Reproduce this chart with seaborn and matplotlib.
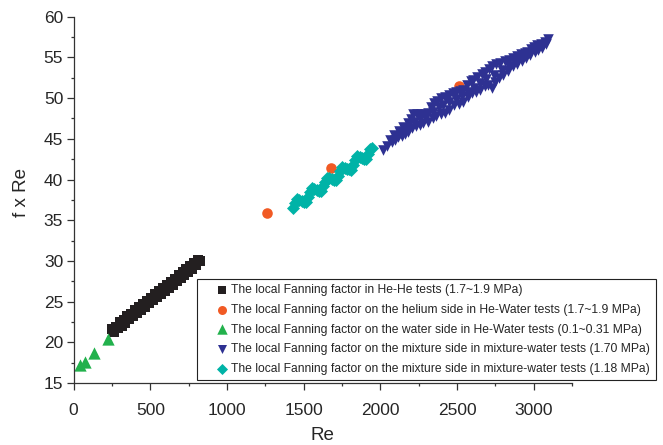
import matplotlib
matplotlib.use("Agg")
import matplotlib.pyplot as plt
from matplotlib.ticker import MultipleLocator
import seaborn as sns
import pandas as pd

# ---------------- data ----------------
hehe_re = [251, 262, 275, 288, 300, 313, 326, 338, 351, 364, 377, 390, 402, 415, 428,
           441, 454, 466, 479, 492, 505, 518, 530, 543, 556, 569, 582, 594, 607, 620,
           633, 646, 658, 671, 684, 697, 710, 722, 735, 748, 761, 774, 786, 799, 812, 825]
hehe_f = [21.65, 21.30, 21.85, 21.75, 22.45, 22.05, 22.70, 22.40, 23.20, 22.85, 23.45,
          23.20, 23.95, 23.60, 24.30, 24.00, 24.75, 24.40, 25.10, 24.80, 25.50, 25.20,
          25.90, 25.55, 26.30, 25.95, 26.70, 26.35, 27.05, 26.70, 27.45, 27.10, 27.85,
          27.50, 28.25, 27.90, 28.60, 28.25, 29.00, 28.65, 29.40, 29.05, 29.80, 29.45,
          30.15, 29.95]

hew_he_re = [1259, 1677, 2513]
hew_he_f = [35.9, 41.4, 51.5]

hew_w_re = [42, 72, 136, 227]
hew_w_f = [17.25, 17.55, 18.65, 20.4]

mix170_re = [2060, 2090, 2120, 2150, 2180, 2200, 2215, 2240, 2265, 2290, 2311, 2330, 2350,
             2370, 2395, 2421, 2445, 2470, 2495, 2520, 2540, 2565, 2590, 2604, 2630, 2660,
             2682, 2705, 2730, 2755, 2780, 2810, 2840, 2865, 2890, 2915, 2940, 2956, 2980,
             3000, 3021, 3045, 3070, 3093,
             2020, 2045, 2074, 2095, 2115, 2140, 2160, 2180, 2205, 2230, 2255, 2280, 2311,
             2340, 2365, 2395, 2421, 2450, 2480, 2510, 2540, 2570, 2600, 2620, 2650, 2680,
             2700, 2726, 2750, 2775, 2800, 2830, 2865, 2890, 2920, 2950, 2976, 3005, 3030,
             3054, 3080,
             2130, 2170, 2220, 2260, 2300, 2340, 2380, 2410, 2450, 2490, 2530, 2570, 2610,
             2650, 2690, 2740, 2790, 2840, 2880, 2930, 2970, 3010, 3060]
mix170_f = [44.9, 45.5, 46.0, 46.5, 46.9, 47.4, 48.0, 48.1, 48.1, 48.1, 48.2, 48.9, 49.4,
            49.6, 50.0, 50.1, 50.4, 50.6, 50.8, 50.9, 51.0, 51.6, 52.1, 52.2, 52.6, 53.0,
            53.2, 53.6, 53.9, 54.2, 54.3, 54.5, 54.7, 54.9, 55.2, 55.4, 55.6, 55.7, 56.0,
            56.3, 56.5, 56.7, 56.9, 57.2,
            43.6, 44.1, 44.6, 44.9, 45.25, 45.4, 45.6, 45.8, 46.3, 46.6, 46.7, 46.9, 47.1,
            47.5, 47.8, 48.0, 48.2, 48.6, 49.1, 49.3, 49.5, 50.1, 50.6, 50.7, 51.0, 51.5,
            51.6, 51.2, 52.0, 52.5, 52.8, 53.3, 53.9, 54.2, 54.5, 54.9, 55.3, 55.7, 55.9,
            56.1, 56.6,
            45.7, 46.2, 47.1, 47.4, 47.7, 48.3, 48.9, 49.1, 49.5, 49.9, 50.2, 50.7, 51.3,
            51.8, 52.3, 52.8, 53.5, 54.0, 54.5, 55.0, 55.5, 56.0, 56.5]

mix118_re = [1430, 1444, 1458, 1472, 1486, 1500, 1514, 1528, 1542, 1556, 1570, 1584, 1598,
             1612, 1626, 1640, 1654, 1668, 1682, 1696, 1710, 1724, 1738, 1752, 1766, 1780,
             1794, 1808, 1822, 1836, 1850, 1864, 1878, 1892, 1906, 1920, 1934, 1948]
mix118_f = [36.50, 37.09, 37.58, 37.47, 37.36, 37.25, 37.24, 37.83, 38.42, 38.91, 38.80,
            38.69, 38.58, 38.57, 39.16, 39.75, 40.24, 40.13, 40.02, 39.91, 39.90, 40.49,
            41.08, 41.57, 41.46, 41.35, 41.24, 41.23, 41.82, 42.41, 42.90, 42.79, 42.68,
            42.57, 42.56, 43.15, 43.74, 43.85]

labels = [
    "The local Fanning factor in He-He tests (1.7~1.9 MPa)",
    "The local Fanning factor on the helium side in He-Water tests (1.7~1.9 MPa)",
    "The local Fanning factor on the water side in He-Water tests (0.1~0.31 MPa)",
    "The local Fanning factor on the mixture side in mixture-water tests (1.70 MPa)",
    "The local Fanning factor on the mixture side in mixture-water tests (1.18 MPa)",
]
x_ticks = [0, 500, 1000, 1500, 2000, 2500, 3000]
y_ticks = [15, 20, 25, 30, 35, 40, 45, 50, 55, 60]

# ---------------- style ----------------
sns.set_style("ticks")
plt.rcParams["font.family"] = ["Liberation Sans", "DejaVu Sans"]

fig = plt.figure(figsize=(6.63, 4.45), dpi=100)
ax = fig.add_axes([0.111, 0.139, 0.752, 0.8235])

series = [
    (hehe_re, hehe_f, labels[0], "s", "#231f20", 58, 2),
    (hew_he_re, hew_he_f, labels[1], "o", "#f15a24", 58, 3),
    (hew_w_re, hew_w_f, labels[2], "^", "#22b14c", 78, 2),
    (mix170_re, mix170_f, labels[3], "v", "#2e3192", 58, 4),
    (mix118_re, mix118_f, labels[4], "D", "#00b3a7", 44, 3),
]
for xs, ys, lab, mk, col, s, z in series:
    df = pd.DataFrame({"Re": xs, "fRe": ys})
    sns.scatterplot(data=df, x="Re", y="fRe", marker=mk, color=col, s=s,
                    linewidth=0, label=lab, ax=ax, zorder=z)

ax.set_xlim(0, 3250)
ax.set_ylim(15, 60)
ax.set_xticks(x_ticks)
ax.set_yticks(y_ticks)
ax.xaxis.set_minor_locator(MultipleLocator(250))
ax.yaxis.set_minor_locator(MultipleLocator(2.5))
ax.tick_params(which="major", direction="out", length=5, width=0.9, labelsize=12.5,
               color="#333333")
ax.tick_params(axis="x", which="major", pad=9)
ax.tick_params(axis="y", which="major", pad=2.5)
ax.tick_params(which="minor", direction="out", length=2.5, width=0.9, color="#333333")
for sp in ["left", "bottom"]:
    ax.spines[sp].set_color("#333333")
    ax.spines[sp].set_linewidth(0.9)
sns.despine(ax=ax)

ax.set_xlabel("Re", fontsize=13.5, labelpad=7)
ax.set_ylabel("f x Re", fontsize=13.5)
ax.yaxis.set_label_coords(-0.087, 0.519)

leg = ax.legend(loc="upper left", bbox_to_anchor=(197 / 663, 1 - 279 / 445),
                bbox_transform=fig.transFigure, borderaxespad=0, fontsize=8.7,
                frameon=True, fancybox=False, edgecolor="#222222", framealpha=1,
                handlelength=3.2, handletextpad=-0.8, labelspacing=0.63,
                borderpad=0.45, markerscale=0.85)
leg.get_frame().set_linewidth(0.8)

fig.savefig("out.png", dpi=100)
